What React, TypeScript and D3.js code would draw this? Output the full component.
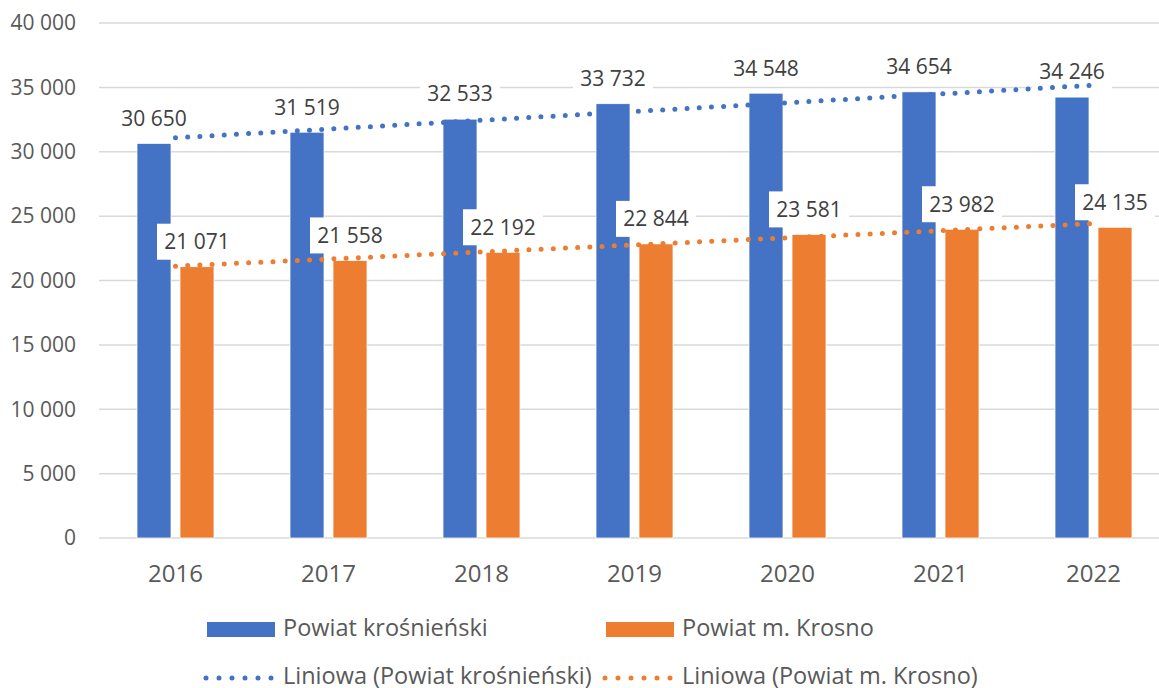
import * as d3 from "d3";
import { useEffect, useRef } from "react";

const years = ["2016", "2017", "2018", "2019", "2020", "2021", "2022"];
const krosnienski = [30650, 31519, 32533, 33732, 34548, 34654, 34246];
const krosno = [21071, 21558, 22192, 22844, 23581, 23982, 24135];
const yTicks = [0, 5000, 10000, 15000, 20000, 25000, 30000, 35000, 40000];
const seriesNames = ["Powiat krośnieński", "Powiat m. Krosno"];
const trendNames = ["Liniowa (Powiat krośnieński)", "Liniowa (Powiat m. Krosno)"];

const W = 1159;
const H = 688;
const margin = { left: 99, right: -11, top: 23, bottom: 150 };
const colors = ["#4472C4", "#ED7D31"];
const FONT = "'Open Sans', sans-serif";

const fmt = (v: number) => d3.format(",")(v).replace(/,/g, " ");

// least squares line over x = 1..n, like the spreadsheet trendline
const trend = (vals: number[]) => {
  const xs = vals.map((_, i) => i + 1);
  const mx = d3.mean(xs) as number;
  const my = d3.mean(vals) as number;
  const slope =
    d3.sum(xs, (x, i) => (x - mx) * (vals[i] - my)) /
    d3.sum(xs, (x) => (x - mx) ** 2);
  return xs.map((x) => my + slope * (x - mx));
};

const App = () => {
  const svgRef = useRef<SVGSVGElement>(null);

  useEffect(() => {
    const svg = d3.select(svgRef.current);
    svg.selectAll("*").remove();

    const x = d3
      .scaleBand()
      .domain(years)
      .range([margin.left, W - margin.right])
      .padding(0);
    const y = d3
      .scaleLinear()
      .domain([0, 40000])
      .range([H - margin.bottom, margin.top]);
    const barW = 34;
    const gap = 9;
    const offset = [-(gap / 2 + barW), gap / 2];
    const center = (yr: string) => (x(yr) as number) + x.bandwidth() / 2;

    // gridlines
    svg
      .append("g")
      .selectAll("line")
      .data(yTicks)
      .join("line")
      .attr("x1", margin.left)
      .attr("x2", W - margin.right)
      .attr("y1", (d) => y(d))
      .attr("y2", (d) => y(d))
      .attr("stroke", "#d9d9d9")
      .attr("stroke-width", 1.5);

    // y labels
    svg
      .append("g")
      .selectAll("text")
      .data(yTicks)
      .join("text")
      .attr("x", 76)
      .attr("y", (d) => y(d))
      .attr("dy", "0.35em")
      .attr("text-anchor", "end")
      .attr("fill", "#595959")
      .style("font", `21px ${FONT}`)
      .text((d) => fmt(d));

    // x labels
    svg
      .append("g")
      .selectAll("text")
      .data(years)
      .join("text")
      .attr("x", (d) => center(d))
      .attr("y", 582)
      .attr("text-anchor", "middle")
      .attr("fill", "#595959")
      .style("font", `24px ${FONT}`)
      .text((d) => d);

    const series = [krosnienski, krosno];

    // bars
    series.forEach((vals, s) => {
      svg
        .append("g")
        .selectAll("rect")
        .data(vals)
        .join("rect")
        .attr("x", (_, i) => center(years[i]) + offset[s])
        .attr("width", barW)
        .attr("y", (d) => y(d))
        .attr("height", (d) => y(0) - y(d))
        .attr("fill", colors[s])
        .attr("stroke", "#fff")
        .attr("stroke-width", 0.75);
    });

    // data labels with white boxes
    series.forEach((vals, s) => {
      const g = svg
        .append("g")
        .selectAll("g")
        .data(vals)
        .join("g")
        .attr(
          "transform",
          (d, i) =>
            `translate(${center(years[i]) + offset[s] + barW / 2},${y(d) - 25})`
        );
      g.append("rect")
        .attr("x", -40)
        .attr("y", -18)
        .attr("width", 80)
        .attr("height", 36)
        .attr("fill", "#fff");
      g.append("text")
        .attr("text-anchor", "middle")
        .attr("dy", "0.35em")
        .attr("fill", "#404040")
        .style("font", `21px ${FONT}`)
        .text((d) => fmt(d));
    });

    // trendlines (on top of labels)
    series.forEach((vals, s) => {
      const t = trend(vals);
      svg
        .append("path")
        .datum(t)
        .attr(
          "d",
          d3
            .line<number>()
            .x((_, i) => center(years[i]))
            .y((d) => y(d))
        )
        .attr("fill", "none")
        .attr("stroke", colors[s])
        .attr("stroke-width", 5)
        .attr("stroke-linecap", "round")
        .attr("stroke-dasharray", "0 12.2");
    });

    // legend
    const legX = [207, 606];
    const leg = svg.append("g");
    seriesNames.forEach((name, s) => {
      leg
        .append("rect")
        .attr("x", legX[s])
        .attr("y", 622)
        .attr("width", 68)
        .attr("height", 15)
        .attr("fill", colors[s]);
      leg
        .append("text")
        .attr("x", legX[s] + 76)
        .attr("y", 628)
        .attr("dy", "0.35em")
        .attr("fill", "#595959")
        .style("font", `23.5px ${FONT}`)
        .text(name);
    });
    trendNames.forEach((name, s) => {
      leg
        .append("line")
        .attr("x1", legX[s] - 1)
        .attr("x2", legX[s] + 66)
        .attr("y1", 678)
        .attr("y2", 678)
        .attr("stroke", colors[s])
        .attr("stroke-width", 5)
        .attr("stroke-linecap", "round")
        .attr("stroke-dasharray", "0 13");
      leg
        .append("text")
        .attr("x", legX[s] + 76)
        .attr("y", 676)
        .attr("dy", "0.35em")
        .attr("fill", "#595959")
        .style("font", `23.5px ${FONT}`)
        .text(name);
    });
  }, []);

  return (
    <svg
      ref={svgRef}
      width={W}
      height={H}
      style={{ position: "absolute", left: 0, top: 0, background: "#fff" }}
    />
  );
};

export default App;
